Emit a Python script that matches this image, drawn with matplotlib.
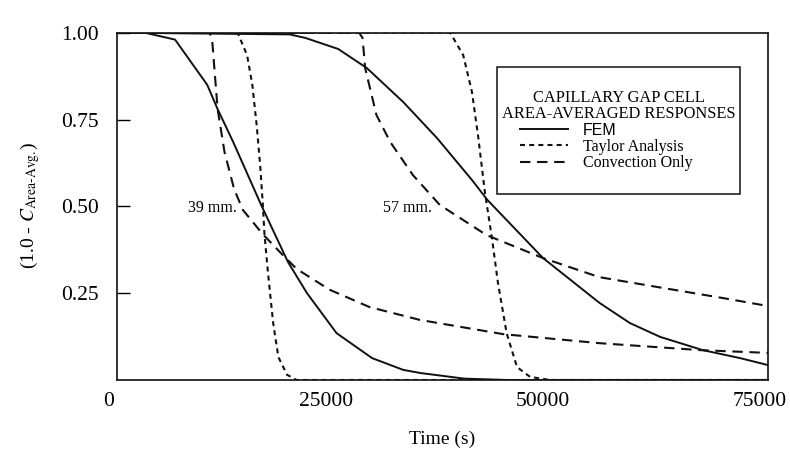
import matplotlib.pyplot as plt
from matplotlib.transforms import ScaledTranslation

plt.rcParams["font.family"] = ["Liberation Serif", "DejaVu Serif"]
plt.rcParams["mathtext.fontset"] = "stix"

# 39 mm cell
fem39_t = [0, 3200, 6700, 10400, 11600, 13400, 16600, 19700, 21900, 25300,
           29400, 33000, 35000, 40000, 45000, 75000]
fem39_y = [1.0, 1.0, 0.98, 0.85, 0.78, 0.685, 0.505, 0.34, 0.25, 0.135,
           0.063, 0.029, 0.02, 0.004, 0.0, 0.0]
tay39_t = [0, 13900, 15000, 15600, 16100, 16500, 16800, 17000, 17400, 18000,
           18600, 19600, 20700, 75000]
tay39_y = [1.0, 1.0, 0.935, 0.85, 0.734, 0.62, 0.51, 0.42, 0.31, 0.164,
           0.066, 0.015, 0.0, 0.0]
con39_t = [0, 10700, 11000, 11600, 12400, 13500, 14500, 16800, 19100, 20700,
           24500, 29100, 34900, 44500, 55600, 67200, 75000]
con39_y = [1.0, 1.0, 0.97, 0.78, 0.656, 0.55, 0.49, 0.42, 0.36, 0.32,
           0.26, 0.21, 0.173, 0.132, 0.106, 0.086, 0.078]

# 57 mm cell
fem57_t = [0, 19900, 21700, 25500, 28800, 33000, 36900, 40900, 42700, 49100,
           55600, 59100, 62600, 67500, 71800, 75000]
fem57_y = [1.0, 0.995, 0.985, 0.953, 0.898, 0.80, 0.696, 0.576, 0.518, 0.351,
           0.222, 0.164, 0.124, 0.086, 0.063, 0.043]
tay57_t = [0, 38400, 39900, 40900, 41600, 42400, 43200, 43900, 44900, 46100,
           47600, 49900, 75000]
tay57_y = [1.0, 1.0, 0.935, 0.83, 0.705, 0.54, 0.41, 0.28, 0.135, 0.037,
           0.009, 0.0, 0.0]
con57_t = [0, 27900, 28300, 28600, 29900, 31500, 34100, 37200, 42600, 49100,
           55600, 62200, 69800, 75000]
con57_y = [1.0, 1.0, 0.985, 0.898, 0.763, 0.685, 0.59, 0.504, 0.417, 0.351,
           0.296, 0.268, 0.236, 0.213]

xticks = [0, 25000, 50000, 75000]
yticks = [0.25, 0.50, 0.75, 1.00]

INK = "#111111"
SOLID = dict(color=INK, lw=1.4, ls="-")
TAYLOR = dict(color=INK, lw=1.5, ls=(0, (2.4, 2.0)))
CONV = dict(color=INK, lw=1.5, ls=(0, (5.0, 3.2)))

fig = plt.figure(figsize=(7.9, 4.57), dpi=100)
ax = fig.add_axes([0.148, 0.1685, 0.824, 0.76])

ax.plot(fem39_t, fem39_y, label="FEM", **SOLID)
ax.plot(tay39_t, tay39_y, label="Taylor Analysis", **TAYLOR)
ax.plot(con39_t, con39_y, label="Convection Only", **CONV)
ax.plot(fem57_t, fem57_y, **SOLID)
ax.plot(tay57_t, tay57_y, **TAYLOR)
ax.plot(con57_t, con57_y, **CONV)

ax.set_xlim(0, 75000)
ax.set_ylim(0, 1.0)
ax.set_xticks(xticks)
ax.set_xticklabels([str(v) for v in xticks])
ax.set_yticks(yticks)
ax.set_yticklabels([f"{v:.2f}" for v in yticks])
ax.tick_params(axis="x", length=0, pad=9, labelsize=15.5)
ax.tick_params(axis="y", direction="in", length=9, width=1, pad=13,
               labelsize=15.5)
shift = ScaledTranslation(-8 / 100, 0, fig.dpi_scale_trans)
for lbl in ax.get_xticklabels():
    lbl.set_transform(lbl.get_transform() + shift)
for s in ax.spines.values():
    s.set_color(INK)
    s.set_linewidth(1.2)

ax.text(8200, 0.495, "39 mm.", fontsize=11.5, va="center", ha="left")
ax.text(30700, 0.495, "57 mm.", fontsize=11.5, va="center", ha="left")

ax.set_xlabel("Time (s)", fontsize=14, labelpad=14)
fig.text(0.038, 0.55, r"(1.0 - $C_{\text{Area-Avg.}}$)", rotation=90,
         fontsize=14, ha="center", va="center")

leg = ax.legend(title="CAPILLARY GAP CELL\nAREA-AVERAGED RESPONSES",
                loc="center", bbox_to_anchor=(0.584, 0.538, 0.373, 0.36),
                mode="expand", borderaxespad=0, fancybox=False,
                edgecolor=INK, framealpha=1, fontsize=11.5,
                title_fontsize=11.8, handlelength=3.0, handletextpad=0.9,
                labelspacing=0.05, borderpad=1.45)
leg.get_frame().set_linewidth(1.1)
leg.get_title().set_multialignment("center")
leg.get_title().set_linespacing(1.0)
leg.get_texts()[0].set_family("Liberation Sans")

fig.savefig("out.png", dpi=100)
